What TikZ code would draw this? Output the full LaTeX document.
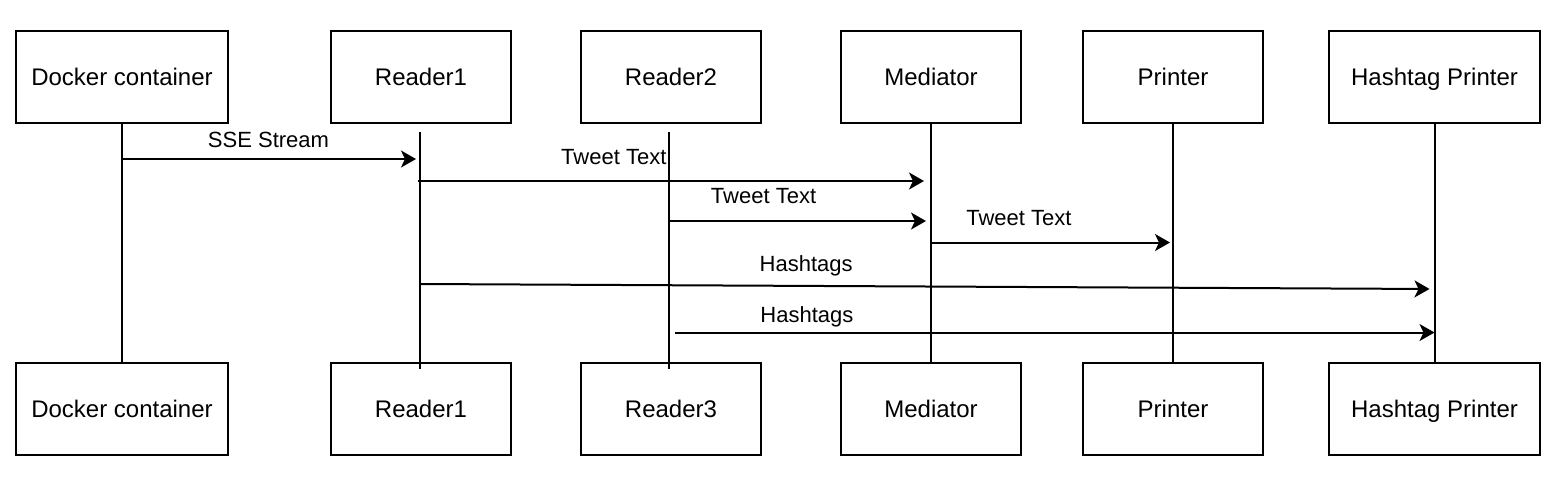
\documentclass[tikz,border=0pt]{standalone}
\usepackage{fontspec}
\setmainfont{Liberation Sans}
\usetikzlibrary{arrows.meta}

\tikzset{
  actor/.style={draw, line width=1pt, minimum height=46pt, inner sep=0pt,
    text height=8.6pt, text depth=0pt, font=\fontsize{12pt}{14pt}\selectfont},
  life/.style={line width=1pt},
  msg/.style={line width=1pt, -{Stealth[length=7.5pt, width=8.5pt, inset=2pt]},
    shorten >=2.5pt},
  msglbl/.style={anchor=base, font=\fontsize{11pt}{13pt}\selectfont},
}

\begin{document}
\begin{tikzpicture}[x=0.5pt, y=-0.5pt]
  \useasboundingbox (0,0) rectangle (1566,478);
  % participants, top and bottom, with their lifelines
  \foreach \nm/\xx/\ww/\gap/\dx/\toptxt/\bottxt in
      {dc/122/106/0/0/Docker container/Docker container, r1/421/90/4/-0.5/Reader1/Reader1,
       r2/671/90/4/-1/Reader2/Reader3, med/931/90/0/0/Mediator/Mediator,
       pr/1173/90/0/0/Printer/Printer, hp/1434.5/105.5/0/0/Hashtag Printer/Hashtag Printer} {
    \node[actor, minimum width=\ww pt] (\nm-t) at (\xx,77) {\toptxt};
    \node[actor, minimum width=\ww pt] (\nm-b) at (\xx,409) {\bottxt};
    \draw[life] ([xshift=\dx pt, yshift=-\gap pt]\nm-t.south)
      -- ([xshift=\dx pt, yshift=-0.9*\gap pt]\nm-b.north);
  }
  % messages
  \draw[msg] (dc-t.south |- 0,159) --
    node[msglbl, pos=0.49, yshift=5.75pt] {SSE Stream} (r1-t.south |- 0,159);
  \draw[msg, shorten <=-1.5pt, shorten >=3.5pt] (r1-t.south |- 0,181) --
    node[msglbl, pos=0.378, yshift=8.35pt] {Tweet Text} (med-t.south |- 0,181);
  \draw[msg, shorten <=-1pt] (r2-t.south |- 0,221) --
    node[msglbl, pos=0.356, yshift=8.85pt] {Tweet Text} (med-t.south |- 0,221);
  \draw[msg, shorten >=1.5pt] (med-t.south |- 0,242.5) --
    node[msglbl, pos=0.363, yshift=8.5pt] {Tweet Text} (pr-t.south |- 0,242.5);
  \draw[msg] (r1-t.south |- 0,284) --
    node[msglbl, pos=0.38, yshift=7.1pt] {Hashtags} (hp-t.south |- 0,289);
  \draw[msg, shorten <=2pt, shorten >=0pt] (r2-t.south |- 0,332.5) --
    node[msglbl, pos=0.178, yshift=4.9pt] {Hashtags} (hp-t.south |- 0,332.5);
\end{tikzpicture}
\end{document}
